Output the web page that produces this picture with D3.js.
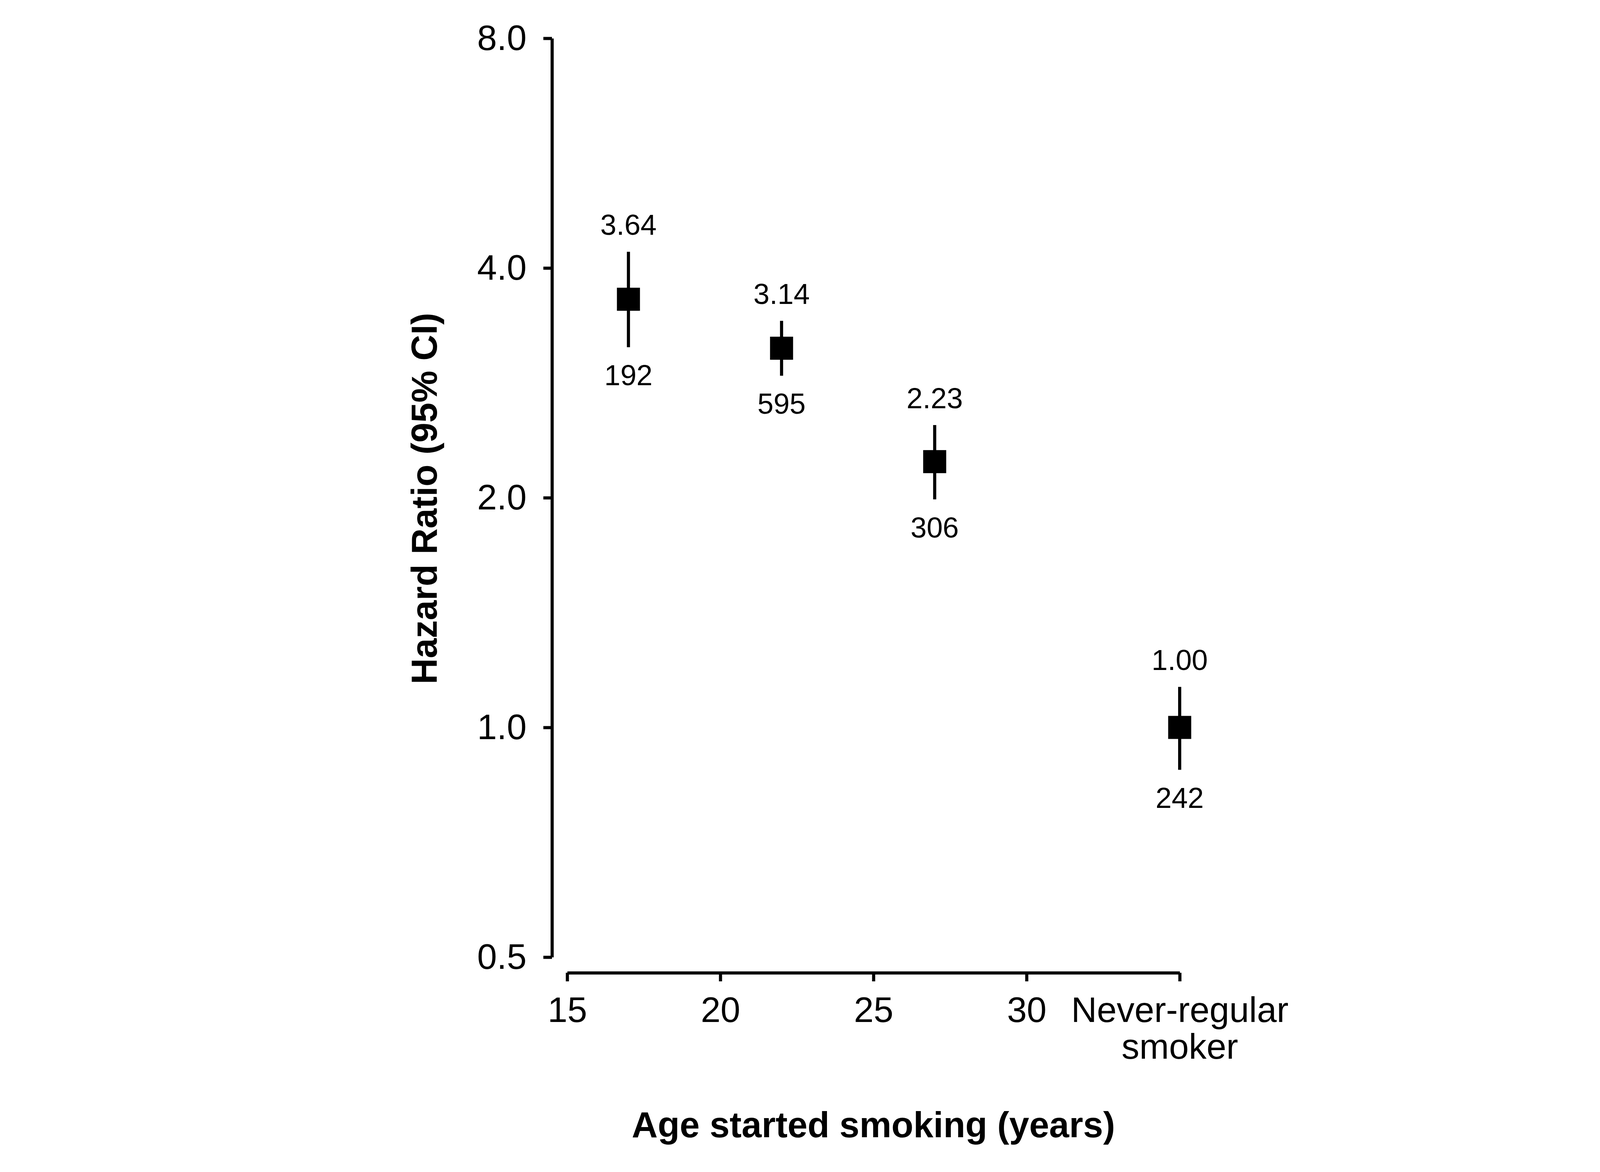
<!DOCTYPE html>
<html>
<head>
<meta charset="utf-8">
<script src="https://cdn.jsdelivr.net/npm/d3@7"></script>
<style>
  body { margin: 0; background: #fff; }
  text { font-family: "Liberation Sans", Arial, Helvetica, sans-serif; fill: #000; }
</style>
</head>
<body>
<div id="chart"></div>
<script>
// Age started smoking vs hazard ratio (log scale)

const ages = [17, 22, 27, 35];            // 35 = never-regular smoker slot
const hazard = [3.64, 3.14, 2.23, 1.00];
const ciLow = [3.15, 2.89, 1.99, 0.88];
const ciHigh = [4.20, 3.41, 2.49, 1.13];
const cases = [192, 595, 306, 242];

const xTicks = [15, 20, 25, 30, 35];
const yTicks = [0.5, 1, 2, 4, 8];

const points = ages.map((a, i) => ({
    age: a,
    hr: hazard[i],
    lo: ciLow[i],
    hi: ciHigh[i],
    n: cases[i]
}));

const width = 4200;
const height = 3000;

const svg = d3.select("#chart")
    .append("svg")
    .attr("width", width)
    .attr("height", height);

// Scales
const x = d3.scaleLinear()
    .domain([15, 35])
    .range([1452, 3020]);

const y = d3.scaleLog()
    .base(2)
    .domain([0.5, 8])
    .range([2450, 98]);

// Y axis
const yAxis = svg.append("g")
    .attr("transform", "translate(1413,0)")
    .call(d3.axisLeft(y)
        .tickValues(yTicks)
        .tickFormat(d3.format(".1f"))
        .tickSize(22)
        .tickSizeOuter(0)
        .tickPadding(43));

// X axis
const xAxis = svg.append("g")
    .attr("transform", "translate(0,2490)")
    .call(d3.axisBottom(x)
        .tickValues(xTicks)
        .tickSize(22)
        .tickSizeOuter(0)
        .tickPadding(39));

[yAxis, xAxis].forEach(g => {
    g.attr("font-family", null).attr("font-size", null);
    g.selectAll("path, line").attr("stroke", "#000").attr("stroke-width", 8);
    g.select(".domain").attr("stroke-linejoin", "round");
    g.selectAll("text").style("font-size", "91px");
});

// last x tick is the reference group, on two lines
xAxis.selectAll(".tick text")
    .filter(d => d === 35)
    .text(null)
    .call(t => {
        t.append("tspan").attr("x", 0).text("Never-regular");
        t.append("tspan").attr("x", 0).attr("dy", "1.04em").text("smoker");
    });

// Confidence intervals
svg.selectAll(".ci")
    .data(points)
    .join("line")
    .attr("class", "ci")
    .attr("x1", d => x(d.age))
    .attr("x2", d => x(d.age))
    .attr("y1", d => y(d.hi))
    .attr("y2", d => y(d.lo))
    .attr("stroke", "#000")
    .attr("stroke-width", 8);

// Point estimates
const sq = 59;
svg.selectAll(".pt")
    .data(points)
    .join("rect")
    .attr("class", "pt")
    .attr("x", d => x(d.age) - sq / 2)
    .attr("y", d => y(d.hr) - sq / 2)
    .attr("width", sq)
    .attr("height", sq)
    .attr("fill", "#000");

// Hazard ratio above, number of cases below
svg.selectAll(".hr-label")
    .data(points)
    .join("text")
    .attr("class", "hr-label")
    .attr("x", d => x(d.age))
    .attr("y", d => y(d.hi) - 70)
    .attr("dy", "0.36em")
    .attr("text-anchor", "middle")
    .style("font-size", "74px")
    .text(d => d.hr.toFixed(2));

svg.selectAll(".n-label")
    .data(points)
    .join("text")
    .attr("class", "n-label")
    .attr("x", d => x(d.age))
    .attr("y", d => y(d.lo) + 71)
    .attr("dy", "0.36em")
    .attr("text-anchor", "middle")
    .style("font-size", "74px")
    .text(d => d.n);

// Axis titles
svg.append("text")
    .attr("x", 2236)
    .attr("y", 2911)
    .attr("text-anchor", "middle")
    .style("font-size", "92px")
    .style("font-weight", "bold")
    .text("Age started smoking (years)");

svg.append("text")
    .attr("transform", "translate(1085,1276) rotate(-90)")
    .attr("dy", "0.36em")
    .attr("text-anchor", "middle")
    .style("font-size", "92px")
    .style("font-weight", "bold")
    .text("Hazard Ratio (95% CI)");
</script>
</body>
</html>
